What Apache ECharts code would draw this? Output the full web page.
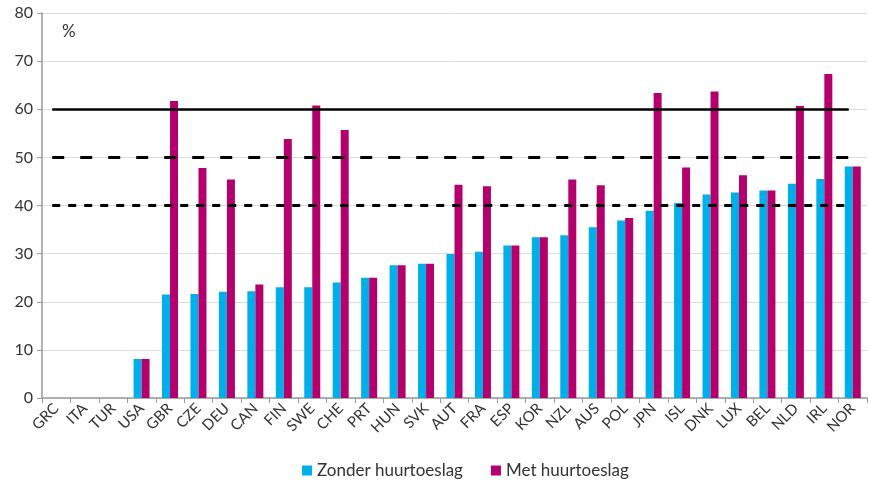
<!DOCTYPE html>
<html><head><meta charset="utf-8">
<script src="https://cdn.jsdelivr.net/npm/echarts@6/dist/echarts.min.js"></script>
<style>html,body{margin:0;padding:0;background:#fff}#c{width:869px;height:486px}</style>
</head><body><div id="c"></div>
<script>
const categories = ['GRC','ITA','TUR','USA','GBR','CZE','DEU','CAN','FIN','SWE','CHE','PRT','HUN','SVK','AUT','FRA','ESP','KOR','NZL','AUS','POL','JPN','ISL','DNK','LUX','BEL','NLD','IRL','NOR'];
const zonder = [null,null,null,8.1,21.5,21.6,22.1,22.2,23.0,23.0,24.0,25.0,27.6,27.9,29.9,30.4,31.7,33.4,33.8,35.5,36.9,38.9,40.5,42.3,42.7,43.1,44.5,45.5,48.1];
const met = [null,null,null,8.1,61.7,47.8,45.4,23.6,53.8,60.8,55.7,25.0,27.6,27.9,44.3,44.0,31.7,33.4,45.4,44.2,37.4,63.4,47.9,63.7,46.3,43.1,60.7,67.3,48.1];
const refLevels = [60, 50, 40];
const yTicks = {min: 0, max: 80, interval: 10};
const names = ['Zonder huurtoeslag', 'Met huurtoeslag'];

const font = 'Lato, "Open Sans", sans-serif';
const lineStyles = [
  {type: 'solid', width: 2.5},
  {type: [12, 16], width: 3},
  {type: [8, 8], width: 3}
];
const markData = refLevels.map((v, i) => [
  {coord: [categories[0], v], lineStyle: Object.assign({color: '#000'}, lineStyles[i])},
  {coord: [categories[categories.length - 1], v]}
]);

const chart = echarts.init(document.getElementById('c'));
chart.setOption({
  animation: false,
  textStyle: {fontFamily: font},
  grid: {left: 42, right: 2, top: 13, bottom: 88, containLabel: false},
  legend: {
    bottom: 2, left: 297, itemWidth: 10, itemHeight: 10, itemGap: 28,
    icon: 'rect',
    textStyle: {fontFamily: font, fontSize: 17, color: '#333'},
    data: names
  },
  graphic: [{type: 'text', left: 62, top: 23, style: {text: '%', font: '17px ' + font, fill: '#333'}}],
  xAxis: {
    type: 'category', data: categories,
    axisLine: {lineStyle: {color: '#999', width: 1.5}},
    axisTick: {show: true, alignWithLabel: false, length: 5, lineStyle: {color: '#999'}},
    axisLabel: {rotate: 45, fontSize: 15, color: '#333', fontFamily: font, margin: 8, interval: 0}
  },
  yAxis: {
    type: 'value', min: yTicks.min, max: yTicks.max, interval: yTicks.interval,
    axisLine: {show: true, lineStyle: {color: '#999', width: 1.5}},
    axisTick: {show: true, length: 5, lineStyle: {color: '#999'}},
    splitLine: {lineStyle: {color: '#dcdcdc'}},
    axisLabel: {fontSize: 16, color: '#333', fontFamily: font, margin: 9}
  },
  series: [
    {name: names[0], type: 'bar', data: zonder, barWidth: 8, barGap: '0%', itemStyle: {color: '#00aeea'},
     markLine: {silent: true, symbol: 'none', label: {show: false}, data: markData}},
    {name: names[1], type: 'bar', data: met, barWidth: 8, itemStyle: {color: '#b4006c'}}
  ]
});
</script></body></html>
